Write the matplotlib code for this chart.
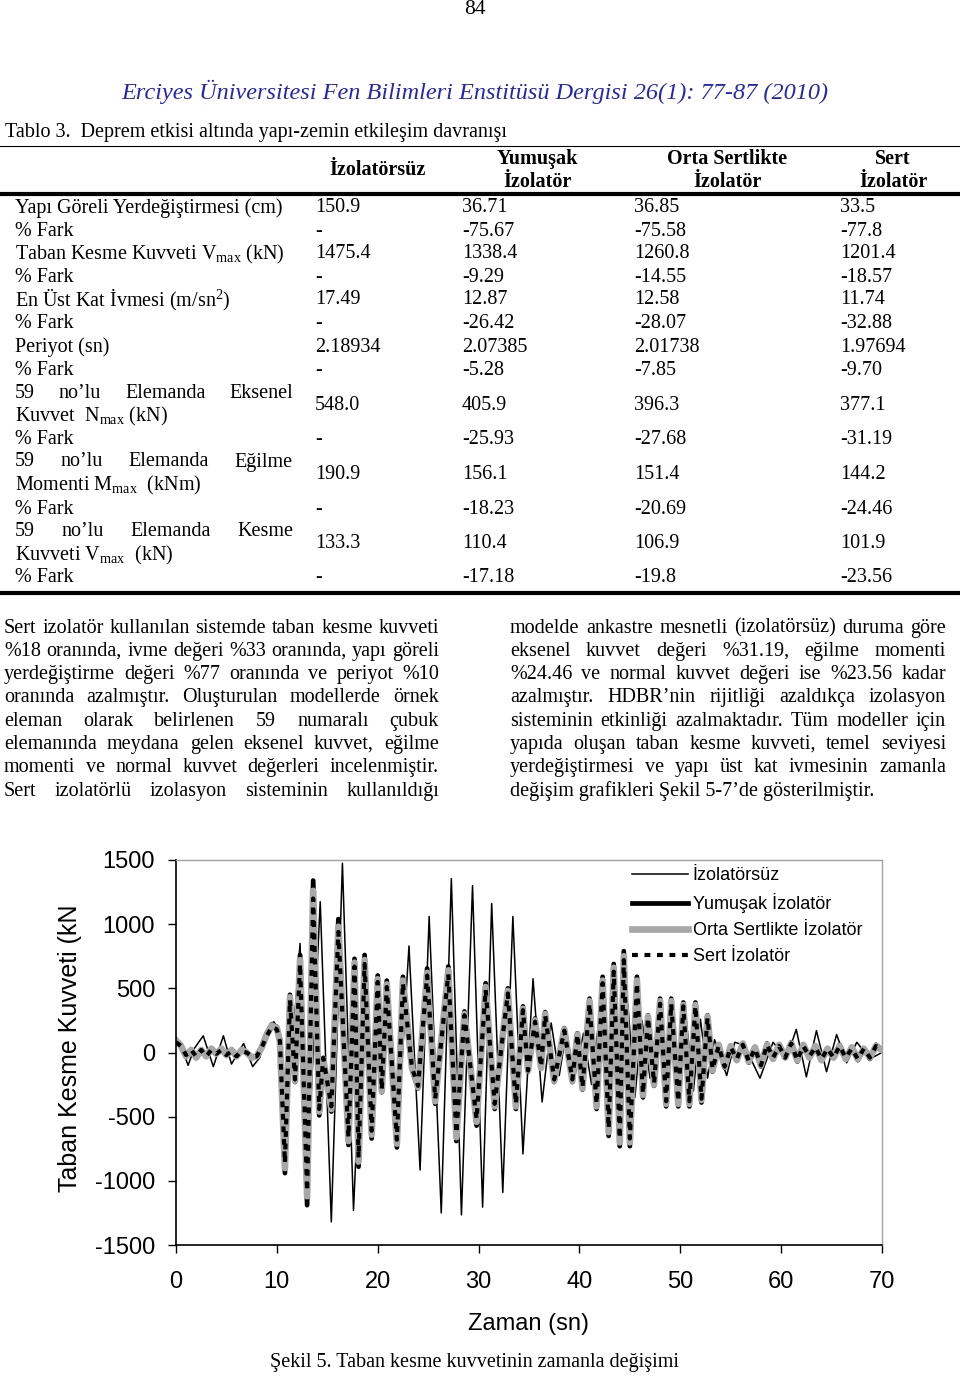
import matplotlib
matplotlib.use("Agg")
import matplotlib.pyplot as plt
from matplotlib.transforms import Bbox, TransformedBbox

plt.rcParams['font.family'] = ['Liberation Serif', 'DejaVu Serif']
plt.rcParams['mathtext.fontset'] = 'custom'
plt.rcParams['mathtext.rm'] = 'Liberation Serif'
plt.rcParams['mathtext.it'] = 'Liberation Serif:italic'
plt.rcParams['axes.unicode_minus'] = False

# ---- table data ----
col_heads = [['İzolatörsüz'], ['Yumuşak', 'İzolatör'],
             ['Orta Sertlikte', 'İzolatör'], ['Sert', 'İzolatör']]
row_labels = [
    ['Yapı Göreli Yerdeğiştirmesi (cm)'],
    ['% Fark'],
    ['Taban Kesme Kuvveti V$_{\\mathrm{max}}$ (kN)'],
    ['% Fark'],
    ['En Üst Kat İvmesi (m/sn$^{2}$)'],
    ['% Fark'],
    ['Periyot (sn)'],
    ['% Fark'],
    ['59 no’lu Elemanda Eksenel', 'Kuvvet  N$_{\\mathrm{max}}$ (kN)'],
    ['% Fark'],
    ['59 no’lu Elemanda Eğilme', 'Momenti M$_{\\mathrm{max}}$  (kNm)'],
    ['% Fark'],
    ['59 no’lu Elemanda Kesme', 'Kuvveti V$_{\\mathrm{max}}$  (kN)'],
    ['% Fark'],
]
izolatorsuz = ['150.9', '-', '1475.4', '-', '17.49', '-', '2.18934', '-',
               '548.0', '-', '190.9', '-', '133.3', '-']
yumusak_tab = ['36.71', '-75.67', '1338.4', '-9.29', '12.87', '-26.42', '2.07385',
               '-5.28', '405.9', '-25.93', '156.1', '-18.23', '110.4', '-17.18']
orta_tab = ['36.85', '-75.58', '1260.8', '-14.55', '12.58', '-28.07', '2.01738',
            '-7.85', '396.3', '-27.68', '151.4', '-20.69', '106.9', '-19.8']
sert_tab = ['33.5', '-77.8', '1201.4', '-18.57', '11.74', '-32.88', '1.97694',
            '-9.70', '377.1', '-31.19', '144.2', '-24.46', '101.9', '-23.56']

# ---- paragraph text ----
left_lines = [
    'Sert izolatör kullanılan sistemde taban kesme kuvveti',
    '%18 oranında, ivme değeri %33 oranında, yapı göreli',
    'yerdeğiştirme değeri %77 oranında ve periyot %10',
    'oranında azalmıştır. Oluşturulan modellerde örnek',
    'eleman olarak belirlenen 59 numaralı çubuk',
    'elemanında meydana gelen eksenel kuvvet, eğilme',
    'momenti ve normal kuvvet değerleri incelenmiştir.',
    'Sert izolatörlü izolasyon sisteminin kullanıldığı',
]
right_lines = [
    'modelde ankastre mesnetli (izolatörsüz) duruma göre',
    'eksenel kuvvet değeri %31.19, eğilme momenti',
    '%24.46 ve normal kuvvet değeri ise %23.56 kadar',
    'azalmıştır. HDBR’nin rijitliği azaldıkça izolasyon',
    'sisteminin etkinliği azalmaktadır. Tüm modeller için',
    'yapıda oluşan taban kesme kuvveti, temel seviyesi',
    'yerdeğiştirmesi ve yapı üst kat ivmesinin zamanla',
    'değişim grafikleri Şekil 5-7’de gösterilmiştir.',
]

# ---- chart data ----
t_iso = [0.0, 0.5, 1.0, 1.5, 2.0, 2.5, 3.0, 3.5, 4.0, 4.5,
         5.0, 5.5, 6.0, 6.5, 7.0, 7.5, 8.0, 8.5, 9.0, 9.5,
         10.0, 10.3, 10.8, 11.3, 11.8, 12.3, 13.0, 13.6, 14.2, 14.6,
         15.4, 16.1, 17.1, 17.7, 18.1, 18.7, 19.4, 20.0, 20.4, 20.9,
         21.9, 22.5, 23.4, 24.0, 24.9, 25.7, 27.0, 27.8, 28.6, 29.8,
         30.7, 31.6, 32.9, 33.7, 34.4, 34.9, 35.6, 36.2, 36.6, 37.5,
         38.5, 39.3, 39.8, 40.3, 41.0, 41.7, 42.3, 42.9, 43.4, 44.0,
         44.4, 45.0, 45.7, 46.3, 46.8, 47.4, 48.0, 48.6, 49.1, 49.8,
         50.3, 50.9, 51.5, 52.1, 52.7, 53.2, 53.8, 54.4, 55.0, 55.6,
         56.2, 56.8, 57.4, 58.0, 58.6, 59.2, 59.8, 60.4, 61.0, 61.6,
         62.2, 62.8, 63.4, 64.0, 64.6, 65.2, 65.8, 66.4, 67.0, 67.6,
         68.2, 68.8, 69.4, 70.0]
yumusak = [100, 60, -30, 20, -40, 20, -30, 30, -10, 30,
           -20, 20, -30, 20, 0, -40, -30, 50, 150, 220,
           200, 100, -940, 450, -230, 760, -1190, 1340, -490, -50,
           -460, 1040, -720, 730, -890, 760, -670, 600, -310, 560,
           -740, 590, -130, -280, 655, -400, 670, -690, 320, -570,
           540, -440, 500, -440, 360, -150, 265, -125, 315, -230,
           190, -230, 150, -290, 420, -440, 590, -650, 690, -730,
           790, -730, 590, -350, 290, -260, 420, -420, 420, -420,
           390, -420, 390, -390, 290, -150, 60, -120, 50, -60,
           70, -80, 40, -110, 70, -50, 60, -40, 80, -70,
           60, -40, 50, -60, 30, -40, 60, -50, 40, -60,
           30, -50, 60, 20]
orta = [90, 50, -30, 20, -40, 20, -30, 30, -10, 30,
        -20, 20, -30, 20, 0, -40, -30, 40, 140, 210,
        190, 90, -900, 430, -220, 720, -1120, 1260, -460, -50,
        -440, 980, -690, 700, -850, 720, -640, 570, -300, 530,
        -710, 560, -120, -270, 620, -380, 640, -660, 300, -540,
        510, -420, 480, -420, 340, -140, 250, -120, 300, -220,
        180, -220, 140, -280, 400, -420, 560, -620, 660, -700,
        750, -700, 560, -330, 280, -250, 400, -400, 400, -400,
        370, -400, 370, -370, 280, -140, 60, -110, 50, -60,
        70, -70, 40, -100, 60, -50, 60, -40, 70, -60,
        60, -40, 50, -60, 30, -40, 50, -50, 40, -50,
        30, -40, 50, 20]
sert = [80, 50, -20, 20, -30, 20, -30, 20, -10, 20,
        -20, 10, -30, 10, 0, -30, -30, 40, 130, 200,
        180, 90, -860, 410, -210, 690, -1080, 1200, -440, -40,
        -420, 940, -660, 670, -820, 690, -610, 550, -290, 510,
        -680, 540, -120, -260, 600, -360, 610, -630, 290, -520,
        490, -400, 460, -400, 330, -140, 240, -110, 290, -210,
        170, -210, 140, -270, 380, -400, 540, -590, 630, -670,
        720, -670, 540, -320, 270, -240, 380, -380, 380, -380,
        360, -380, 360, -360, 270, -130, 50, -110, 40, -50,
        60, -70, 30, -100, 60, -40, 50, -40, 70, -60,
        50, -30, 40, -50, 30, -40, 50, -40, 30, -50,
        30, -40, 50, 20]
t_fix = [0.0, 0.6, 1.2, 1.8, 2.7, 3.7, 4.7, 5.5, 6.7, 7.6,
         8.3, 9.2, 9.7, 10.2, 11.0, 11.6, 12.3, 13.0, 14.3, 15.4,
         16.5, 17.6, 18.7, 19.5, 20.1, 20.4, 20.9, 21.9, 23.1, 24.2,
         25.1, 26.3, 27.3, 28.3, 29.4, 30.4, 31.3, 32.4, 33.4, 34.4,
         35.4, 36.3, 37.2, 38.0, 38.7, 39.5, 40.4, 41.2, 42.0, 42.7,
         43.5, 44.2, 44.8, 45.5, 46.2, 47.0, 47.8, 48.5, 49.2, 49.9,
         50.6, 51.3, 52.0, 52.7, 53.4, 54.6, 55.4, 56.2, 57.0, 57.9,
         59.2, 60.5, 61.5, 62.5, 63.5, 64.5, 65.5, 66.5, 67.5, 68.8,
         70.0]
izolatorsuz_v = [80, 30, -100, 30, 130, -110, 130, -90, 70, -110,
                 -40, 200, 240, 170, -480, 100, 850, -1000, 1175, -1320,
                 1475, -1230, 740, -650, 580, -300, 570, -740, 830, -915,
                 1060, -1250, 1355, -1265, 1300, -1205, 1160, -1090, 1060, -790,
                 575, -385, 230, -180, 170, -200, 150, -250, 300, -350,
                 350, -400, 380, -350, 250, -200, 220, -300, 300, -280,
                 250, -300, 260, -200, 100, -180, 80, 60, -50, -200,
                 80, -50, 180, -190, 170, -150, 140, -80, 80, -50,
                 0]
series_names = ['İzolatörsüz', 'Yumuşak İzolatör', 'Orta Sertlikte İzolatör', 'Sert İzolatör']
x_ticks = [0, 10, 20, 30, 40, 50, 60, 70]
y_ticks = [-1500, -1000, -500, 0, 500, 1000, 1500]

W, H = 960, 1378
fig = plt.figure(figsize=(W / 100, H / 100), dpi=100)
renderer = fig.canvas.get_renderer()


def put(x, y, s, **kw):
    # x, y in page pixels (y measured from the top)
    return fig.text(x / W, 1 - y / H, s, **kw)


def width_of(s, size, **kw):
    t = fig.text(0, 0, s, fontsize=size, **kw)
    w = t.get_window_extent(renderer).width
    t.remove()
    return w


def justify(line, x0, x1, y, size, last=False):
    if last:
        put(x0, y, line, fontsize=size, va='center')
        return
    words = line.split()
    ws = [width_of(w, size) for w in words]
    gap = (x1 - x0 - sum(ws)) / (len(words) - 1)
    x = x0
    for w, wd in zip(words, ws):
        put(x, y, w, fontsize=size, va='center')
        x += wd + gap


# ---- page header ----
put(475, 9, '84', fontsize=15.5, ha='center', va='center')
put(475, 92, 'Erciyes Üniversitesi Fen Bilimleri Enstitüsü Dergisi 26(1): 77-87 (2010)',
    fontsize=17.5, style='italic', color='#2626b4', ha='center', va='center')

# ---- table ----
fs = 14.5
put(5, 133, 'Tablo 3.  Deprem etkisi altında yapı-zemin etkileşim davranışı', fontsize=fs, va='center')
fig.add_artist(plt.Line2D([0, 1], [1 - 146 / H] * 2, color='black', lw=0.8))
fig.add_artist(plt.Line2D([0, 1], [1 - 194 / H] * 2, color='black', lw=3))
fig.add_artist(plt.Line2D([0, 1], [1 - 593 / H] * 2, color='black', lw=3))

head_x = [378, 537, 727, 893]
for hx, head in zip(head_x, col_heads):
    if len(head) == 1:
        put(hx, 170, head[0], fontsize=fs, fontweight='bold', ha='center', va='center')
    else:
        put(hx, 159, head[0], fontsize=fs, fontweight='bold', ha='center', va='center')
        put(hx, 182, head[1], fontsize=fs, fontweight='bold', ha='center', va='center')

row_y = [208, 231, 254, 277, 300, 323, 347, 370, 405, 440, 474, 509, 544, 578]
col_x = [315, 462, 634, 840]
for i, lab in enumerate(row_labels):
    y = row_y[i]
    if len(lab) == 1:
        put(15, y, lab[0], fontsize=fs, va='center')
    else:
        justify(lab[0], 15, 293, y - 12, fs)
        put(15, y + 11, lab[1], fontsize=fs, va='center')
    for cx, col in zip(col_x, [izolatorsuz, yumusak_tab, orta_tab, sert_tab]):
        put(cx, y, col[i], fontsize=fs, va='center')

# ---- two text columns ----
for k, line in enumerate(left_lines):
    justify(line, 4, 439, 628 + k * 23.3, fs)
for k, line in enumerate(right_lines):
    justify(line, 510, 946, 628 + k * 23.3, fs, last=(k == len(right_lines) - 1))

# ---- chart ----
ax = fig.add_axes([176 / W, 1 - 1245 / H, 706 / W, 385 / H])
ax.plot(t_fix, izolatorsuz_v, color='black', lw=1.1, label=series_names[0])
ax.plot(t_iso, yumusak, color='black', lw=3.4, label=series_names[1])
ax.plot(t_iso, orta, color='#a8a8a8', lw=4.8, label=series_names[2])
ax.plot(t_iso, sert, color='black', lw=3.0, ls=(0, (1.4, 1.6)), label=series_names[3])
ax.set_xlim(0, 70)
ax.set_ylim(-1500, 1500)
ax.set_xticks(x_ticks)
ax.set_yticks(y_ticks)
for lbl in ax.get_xticklabels() + ax.get_yticklabels():
    lbl.set_family('Liberation Sans')
    lbl.set_fontsize(17)
ax.tick_params(axis='y', direction='out', length=6, width=1, pad=9)
ax.tick_params(axis='x', direction='out', length=6, width=1, pad=13)
for s in ['top', 'right']:
    ax.spines[s].set_color('#a0a0a0')
    ax.spines[s].set_linewidth(1)
for s in ['left', 'bottom']:
    ax.spines[s].set_linewidth(1.2)
ax.set_xlabel('Zaman (sn)', fontsize=17, family='Liberation Sans', labelpad=14)
ax.legend(loc='upper left', bbox_to_anchor=(0.646, 0.982), frameon=False,
          borderaxespad=0, borderpad=0, handlelength=3.1, handletextpad=0.25,
          labelspacing=0.5, prop={'family': 'Liberation Sans', 'size': 13})

ylab = put(70, 1044, 'Taban Kesme Kuvveti (kN)', fontsize=18, family='Liberation Sans',
           rotation=90, ha='center', va='center')
ylab.set_clip_box(TransformedBbox(Bbox([[0, 0], [1, 1 - 906 / H]]), fig.transFigure))
ylab.set_clip_on(True)

put(475, 1363, 'Şekil 5. Taban kesme kuvvetinin zamanla değişimi', fontsize=fs,
    ha='center', va='center')

fig.savefig('out.png', dpi=100)
